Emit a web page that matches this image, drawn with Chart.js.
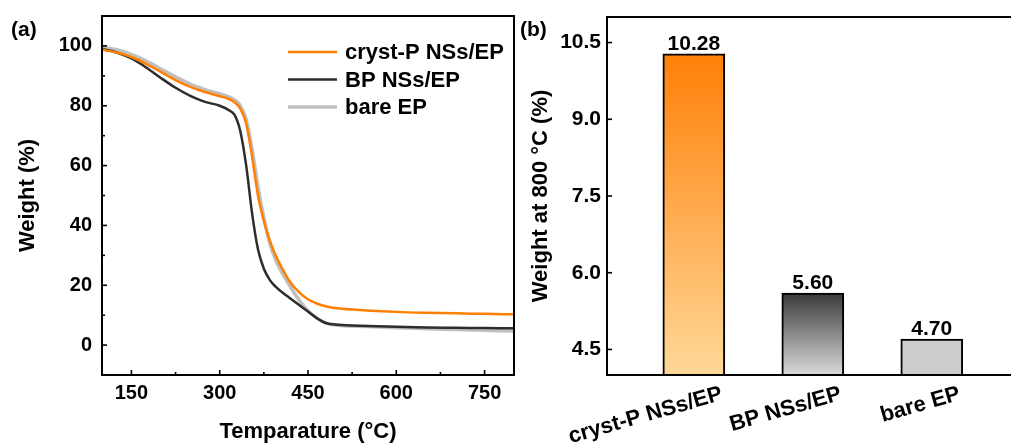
<!DOCTYPE html>
<html>
<head>
<meta charset="utf-8">
<script src="https://cdn.jsdelivr.net/npm/chart.js@4"></script>
<style>
  body { margin: 0; background: #fff; overflow: hidden; }
  #wrap { position: relative; width: 1011px; height: 446px; overflow: hidden; }
  canvas { position: absolute; top: 0; }
  .tag { position: absolute; font: bold 21px "Liberation Sans", Arial, sans-serif; line-height: 1; color: #000; }
</style>
</head>
<body>
<div id="wrap">
  <canvas id="tga" width="516" height="446" style="left:0"></canvas>
  <canvas id="residue" width="540" height="446" style="left:500px"></canvas>
  <div class="tag" style="left:11px;top:18px">(a)</div>
  <div class="tag" style="left:520px;top:18px">(b)</div>
</div>
<script>
// data
const tempC = [100, 125, 150, 175, 200, 225, 250, 275, 300, 315, 325, 335, 345, 355, 365, 375, 385, 395, 405, 420, 435, 450, 465, 480, 500, 550, 600, 650, 700, 750, 800]
const crystP = [98.7, 97.8, 96.3, 94.0, 91.3, 88.6, 86.3, 84.6, 83.2, 82.3, 81.2, 79.0, 74.0, 63.0, 50.0, 41.5, 35.0, 30.0, 26.0, 21.0, 17.6, 15.3, 13.9, 13.0, 12.3, 11.6, 11.1, 10.8, 10.6, 10.45, 10.28]
const bpNs = [99.0, 97.8, 95.8, 92.8, 89.3, 86.0, 83.3, 81.3, 80.0, 78.6, 77.0, 71.5, 60.0, 44.0, 32.0, 25.5, 21.8, 19.5, 17.8, 15.6, 13.4, 11.2, 9.0, 7.4, 6.8, 6.4, 6.1, 5.9, 5.8, 5.7, 5.6]
const bareEp = [99.6, 98.7, 97.2, 95.0, 92.3, 89.7, 87.2, 85.4, 84.0, 83.0, 82.0, 80.0, 75.5, 65.5, 53.0, 42.5, 34.0, 28.5, 24.5, 19.5, 15.0, 11.5, 9.0, 7.4, 6.6, 6.2, 5.8, 5.5, 5.2, 4.95, 4.7]
const seriesNames = ['cryst-P NSs/EP', 'BP NSs/EP', 'bare EP']
const tempTicks = [150, 300, 450, 600, 750]
const weightTicks = [0, 20, 40, 60, 80, 100]

const samples = ['cryst-P NSs/EP', 'BP NSs/EP', 'bare EP']
const residue = [10.28, 5.60, 4.70]
const residueTicks = [4.5, 6.0, 7.5, 9.0, 10.5]

// styles
const lineColors = ['rgb(255,127,0)', 'rgb(45,45,45)', 'rgb(192,192,192)']
const lineWidths = [2.5, 2.5, 3.5]
const barTop = ['rgb(255,128,8)', 'rgb(58,58,58)', 'rgb(204,204,204)']
const barBottom = ['rgb(255,216,152)', 'rgb(218,218,218)', 'rgb(204,204,204)']

Chart.defaults.font.family = '"Liberation Sans", Arial, sans-serif'
Chart.defaults.font.weight = 'bold'
Chart.defaults.color = '#000'

// fixed axis box sizes, no label overhang padding
const fixHeight = h => s => { s.height = h; s.paddingLeft = 0; s.paddingRight = 0 }
const fixWidth = w => s => { s.width = w; s.paddingTop = 0; s.paddingBottom = 0 }
const noGrid = { display: false, drawTicks: false, tickLength: 0 }

// box frame round the plot with inward ticks
const frameTicks = {
    id: 'frameTicks',
    afterDraw(chart, args, opts) {
        const { ctx, chartArea: a } = chart
        ctx.save()
        ctx.strokeStyle = '#000'
        ctx.lineWidth = 2
        ctx.strokeRect(a.left, a.top, a.right - a.left, a.bottom - a.top)
        ctx.lineWidth = 1.6
        ;(opts.axes || []).forEach(id => {
            const s = chart.scales[id]
            const vals = s.ticks.map(t => t.value)
            const step = vals[1] - vals[0]
            const minor = opts.minor ? [...new Set(vals.flatMap(v => [v - step / 2, v + step / 2]))]
                .filter(v => v > s.min && v < s.max && !vals.includes(v)) : []
            const draw = (v, len) => {
                const p = s.getPixelForValue(v)
                ctx.beginPath()
                if (s.isHorizontal()) { ctx.moveTo(p, a.bottom); ctx.lineTo(p, a.bottom - len) }
                else { ctx.moveTo(a.left, p); ctx.lineTo(a.left + len, p) }
                ctx.stroke()
            }
            vals.forEach(v => draw(v, 5))
            minor.forEach(v => draw(v, 3))
        })
        ctx.restore()
    }
}

// legend drawn inside the plot
const lineLegend = {
    id: 'lineLegend',
    afterDraw(chart, args, opts) {
        const { ctx, chartArea: a } = chart
        ctx.save()
        ctx.font = 'bold 22px "Liberation Sans", Arial, sans-serif'
        ctx.textBaseline = 'middle'
        ctx.fillStyle = '#000'
        chart.data.datasets.forEach((ds, i) => {
            const y = a.top + opts.top + i * opts.gap
            const x = a.left + opts.left
            ctx.strokeStyle = ds.borderColor
            ctx.lineWidth = ds.borderWidth
            ctx.beginPath()
            ctx.moveTo(x, y)
            ctx.lineTo(x + opts.lineLen, y)
            ctx.stroke()
            ctx.fillText(ds.label, x + opts.lineLen + 8, y + 1)
        })
        ctx.restore()
    }
}

// value printed above each bar
const barValues = {
    id: 'barValues',
    afterDatasetsDraw(chart) {
        const { ctx } = chart
        const meta = chart.getDatasetMeta(0)
        ctx.save()
        ctx.font = 'bold 21px "Liberation Sans", Arial, sans-serif'
        ctx.textAlign = 'center'
        ctx.textBaseline = 'alphabetic'
        ctx.fillStyle = '#000'
        meta.data.forEach((bar, i) => {
            ctx.fillText(residue[i].toFixed(2), bar.x, bar.y - 4)
        })
        ctx.restore()
    }
}

// (a) TGA curves
new Chart(document.getElementById('tga'), {
    type: 'line',
    data: {
        datasets: [crystP, bpNs, bareEp].map((w, k) => ({
            label: seriesNames[k],
            data: tempC.map((t, i) => ({ x: t, y: w[i] })),
            borderColor: lineColors[k],
            borderWidth: lineWidths[k],
            pointRadius: 0,
            cubicInterpolationMode: 'monotone'
        }))
    },
    options: {
        responsive: false,
        animation: false,
        layout: { padding: { top: 16, right: 2, left: 0, bottom: 0 } },
        plugins: {
            legend: { display: false },
            tooltip: { enabled: false },
            frameTicks: { axes: ['x', 'y'], minor: true },
            lineLegend: { left: 186, top: 36, gap: 27.5, lineLen: 49 }
        },
        scales: {
            x: {
                type: 'linear', min: 100, max: 800,
                afterBuildTicks: s => { s.ticks = tempTicks.map(v => ({ value: v })) },
                afterFit: fixHeight(71),
                grid: noGrid,
                border: { display: false },
                ticks: { font: { size: 20 }, padding: 6 },
                title: { display: true, text: 'Temparature (°C)', font: { size: 22 }, padding: { top: 0, bottom: 1 } }
            },
            y: {
                min: -10, max: 110,
                afterBuildTicks: s => { s.ticks = weightTicks.map(v => ({ value: v })) },
                afterFit: fixWidth(102),
                grid: noGrid,
                border: { display: false },
                ticks: { font: { size: 20 }, padding: 10 },
                title: { display: true, text: 'Weight (%)', font: { size: 22 }, padding: { top: 15, bottom: 0 } }
            }
        }
    },
    plugins: [frameTicks, lineLegend]
})

// (b) residue at 800 °C
const barFill = (c) => {
    const i = c.dataIndex
    const area = c.chart.chartArea
    if (!area) return barTop[i]
    const top = c.chart.scales.y.getPixelForValue(residue[i])
    const g = c.chart.ctx.createLinearGradient(0, top, 0, area.bottom)
    g.addColorStop(0, barTop[i])
    g.addColorStop(1, barBottom[i])
    return g
}

new Chart(document.getElementById('residue'), {
    type: 'bar',
    data: {
        datasets: [{
            data: residue.map((v, i) => ({ x: i + 1, y: v })),
            backgroundColor: barFill,
            borderColor: '#000',
            borderWidth: 2,
            borderSkipped: false,
            barThickness: 62
        }]
    },
    options: {
        responsive: false,
        animation: false,
        layout: { padding: { top: 17, right: 19, left: 0, bottom: 0 } },
        plugins: {
            legend: { display: false },
            tooltip: { enabled: false },
            frameTicks: { axes: ['y'], minor: false }
        },
        scales: {
            x: {
                type: 'linear', min: 0.27, max: 3.75, offset: false,
                afterBuildTicks: s => { s.ticks = samples.map((n, i) => ({ value: i + 1 })) },
                afterFit: fixHeight(71),
                grid: noGrid,
                border: { display: false },
                ticks: {
                    font: { size: 22 }, padding: 6, labelOffset: 28,
                    minRotation: 16, maxRotation: 16,
                    callback: v => samples[v - 1]
                }
            },
            y: {
                min: 4.0, max: 11.0,
                afterBuildTicks: s => { s.ticks = residueTicks.map(v => ({ value: v })) },
                afterFit: fixWidth(107),
                grid: noGrid,
                border: { display: false },
                ticks: { font: { size: 21 }, padding: 6, callback: v => v.toFixed(1) },
                title: { display: true, text: 'Weight at 800 °C (%)', font: { size: 22 }, padding: { top: 28, bottom: 0 } }
            }
        }
    },
    plugins: [frameTicks, barValues]
})
</script>
</body>
</html>
